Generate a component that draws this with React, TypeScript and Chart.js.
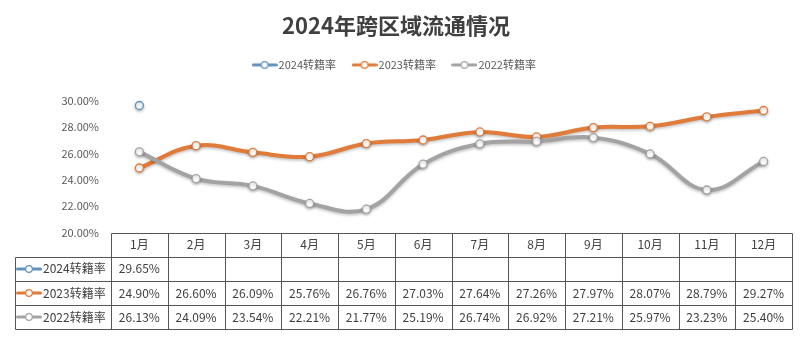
import React, { useEffect, useRef } from 'react';
import { Chart, registerables } from 'chart.js';

Chart.register(...registerables);

const titleText = '2024年跨区域流通情况';
const months = ['1月', '2月', '3月', '4月', '5月', '6月', '7月', '8月', '9月', '10月', '11月', '12月'];
const seriesNames = ['2024转籍率', '2023转籍率', '2022转籍率'];
const rate2024: (number | null)[] = [29.65, null, null, null, null, null, null, null, null, null, null, null];
const rate2023 = [24.9, 26.6, 26.09, 25.76, 26.76, 27.03, 27.64, 27.26, 27.97, 28.07, 28.79, 29.27];
const rate2022 = [26.13, 24.09, 23.54, 22.21, 21.77, 25.19, 26.74, 26.92, 27.21, 25.97, 23.23, 25.4];
const yMin = 20;
const yMax = 30;
const yStep = 2;
const seriesColors = ['#6092BE', '#E07B39', '#A3A3A3'];

const FONT = "'Noto Sans CJK SC', 'Noto Sans', sans-serif";

function makeMarker(color: string): HTMLCanvasElement {
  const c = document.createElement('canvas');
  c.width = 26;
  c.height = 10;
  const g = c.getContext('2d')!;
  g.strokeStyle = color;
  g.lineWidth = 3;
  g.lineCap = 'round';
  g.beginPath();
  g.moveTo(1.5, 5);
  g.lineTo(24.5, 5);
  g.stroke();
  g.beginPath();
  g.arc(13, 5, 3.3, 0, Math.PI * 2);
  g.fillStyle = '#ffffff';
  g.fill();
  g.lineWidth = 1.2;
  g.strokeStyle = color;
  g.stroke();
  return c;
}

const fmt = (v: number) => v.toFixed(2) + '%';

export default function App() {
  const ref = useRef<HTMLCanvasElement | null>(null);

  useEffect(() => {
    if (!ref.current) return;
    const markers = seriesColors.map(makeMarker);
    const seriesData = [rate2024, rate2023, rate2022];

    const legendSpacer = {
      id: 'legendSpacer',
      beforeLayout(chart: any) {
        const lg = chart.legend;
        if (lg && !lg.__patched) {
          const f = lg.fit;
          lg.fit = function () {
            f.call(this);
            this.height += 20.5;
          };
          lg.__patched = true;
        }
      },
    };

    const shadow = {
      id: 'lineShadow',
      beforeDatasetDraw(chart: any) {
        const ctx = chart.ctx;
        ctx.save();
        ctx.shadowColor = 'rgba(0,0,0,0.25)';
        ctx.shadowBlur = 3;
        ctx.shadowOffsetY = 1.5;
      },
      afterDatasetDraw(chart: any) {
        chart.ctx.restore();
      },
    };

    const dataTable = {
      id: 'dataTable',
      afterDraw(chart: any) {
        const { ctx, chartArea } = chart;
        const xs = chart.scales.x;
        const n = months.length;
        const colW = (chartArea.right - chartArea.left) / n;
        const top = chartArea.bottom;
        const rowH = 24.2;
        const tableLeft = 14.5;
        const bottom = top + rowH * (seriesData.length + 1);
        const px = (v: number) => Math.round(v) + 0.5;
        ctx.save();
        ctx.strokeStyle = '#555555';
        ctx.lineWidth = 1;
        ctx.beginPath();
        ctx.moveTo(px(chartArea.left), px(top));
        ctx.lineTo(px(chartArea.right), px(top));
        for (let r = 1; r <= seriesData.length + 1; r++) {
          ctx.moveTo(px(tableLeft), px(top + r * rowH));
          ctx.lineTo(px(chartArea.right), px(top + r * rowH));
        }
        ctx.moveTo(px(tableLeft), px(top + rowH));
        ctx.lineTo(px(tableLeft), px(bottom));
        for (let i = 0; i <= n; i++) {
          const cx = i < n ? xs.getPixelForValue(i) - colW / 2 : xs.getPixelForValue(n - 1) + colW / 2;
          ctx.moveTo(px(cx), px(top));
          ctx.lineTo(px(cx), px(bottom));
        }
        ctx.stroke();

        ctx.fillStyle = '#404040';
        ctx.font = `12px ${FONT}`;
        ctx.textBaseline = 'middle';
        ctx.textAlign = 'center';
        months.forEach((m, i) => {
          ctx.fillText(m, xs.getPixelForValue(i), top + rowH / 2);
        });
        seriesData.forEach((arr, r) => {
          const cy = top + rowH * (r + 1) + rowH / 2;
          ctx.drawImage(markers[r], 16, Math.round(cy - 5));
          ctx.textAlign = 'left';
          ctx.fillText(seriesNames[r], 43, cy);
          ctx.textAlign = 'center';
          arr.forEach((v, i) => {
            if (v == null) return;
            ctx.fillText(fmt(v), xs.getPixelForValue(i), cy);
          });
        });
        ctx.restore();
      },
    };

    const orders = [0, 2, 1];
    const chart = new Chart(ref.current, {
      type: 'line',
      data: {
        labels: months,
        datasets: seriesData.map((d, i) => ({
          label: seriesNames[i],
          data: d,
          borderColor: seriesColors[i],
          backgroundColor: '#ffffff',
          borderWidth: 4,
          pointRadius: 4,
          pointBorderWidth: 1.3,
          pointBackgroundColor: '#ffffff',
          pointBorderColor: seriesColors[i],
          tension: 0.4,
          fill: false,
          clip: false as any,
          order: orders[i],
        })),
      },
      options: {
        responsive: false,
        animation: false,
        layout: { padding: { left: 0, right: 8, top: 0, bottom: 121.5 } },
        plugins: {
          title: {
            display: true,
            text: titleText,
            color: '#404040',
            font: { family: FONT, size: 22, weight: 'bold' },
            padding: { top: 12, bottom: 1 },
          },
          legend: {
            display: true,
            position: 'top',
            labels: {
              usePointStyle: true,
              pointStyleWidth: 17,
              padding: 20,
              color: '#595959',
              font: { family: FONT, size: 11 },
              generateLabels: () =>
                seriesNames.map((name, i) => ({
                  text: name,
                  pointStyle: markers[i],
                  fillStyle: '#ffffff',
                  strokeStyle: seriesColors[i],
                  lineWidth: 0,
                  hidden: false,
                  datasetIndex: i,
                  fontColor: '#595959',
                })) as any,
            },
          },
          tooltip: { enabled: false },
        },
        scales: {
          x: {
            type: 'category',
            display: false,
            offset: true,
          },
          y: {
            min: yMin,
            max: yMax,
            afterFit: (s: any) => {
              s.width = 111;
            },
            grid: { display: false, drawTicks: false },
            border: { display: false },
            ticks: {
              stepSize: yStep,
              padding: 12,
              color: '#595959',
              font: { family: FONT, size: 11 },
              callback: (v: any) => fmt(Number(v)),
            },
          },
        },
      },
      plugins: [legendSpacer, shadow, dataTable],
    });
    return () => chart.destroy();
  }, []);

  return (
    <div style={{ position: 'fixed', left: 0, top: 0, width: 800, height: 354, background: '#ffffff' }}>
      <canvas ref={ref} width={800} height={354} style={{ display: 'block' }} />
    </div>
  );
}
